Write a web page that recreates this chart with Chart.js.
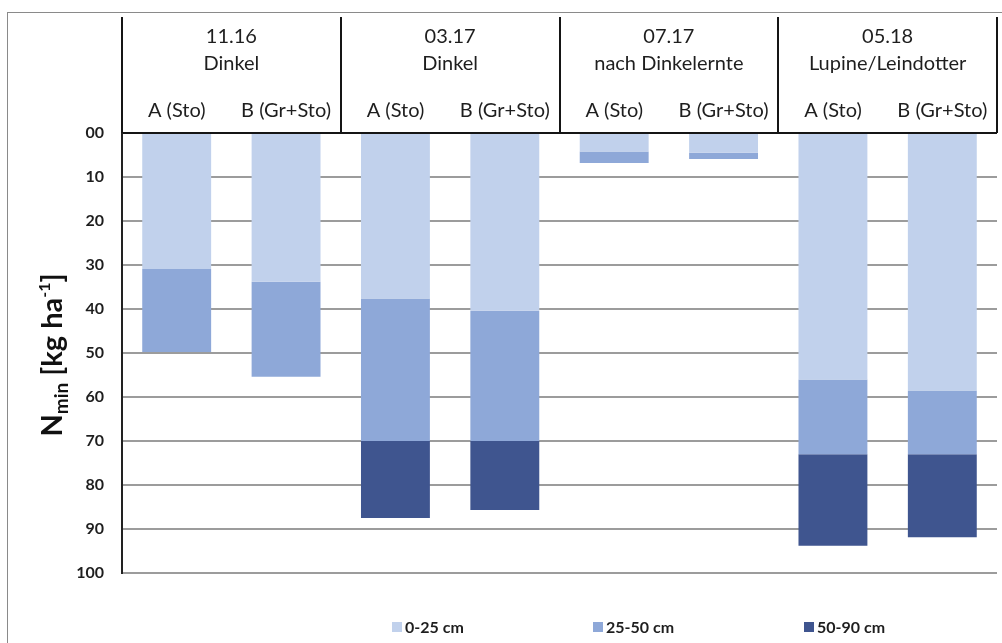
<!DOCTYPE html>
<html>
<head>
<meta charset="utf-8">
<script src="https://cdn.jsdelivr.net/npm/chart.js@4.4.1/dist/chart.umd.min.js"></script>
<style>
  html, body { margin: 0; padding: 0; background: #fff; overflow: hidden; }
  .wrap { position: relative; width: 1002px; height: 643px; }
  .frame { position: absolute; left: 7px; top: 12px; right: -5px; bottom: -5px;
           border-left: 1px solid #8a8a8a; border-top: 1px solid #8a8a8a; }
  canvas { position: absolute; left: 0; top: 0; }
</style>
</head>
<body>
<div class="wrap">
  <div class="frame"></div>
  <canvas id="nminChart" width="1002" height="643"></canvas>
</div>
<script>
// --- Data ---
const groupLabels = [
    ['11.16', 'Dinkel'],
    ['03.17', 'Dinkel'],
    ['07.17', 'nach Dinkelernte'],
    ['05.18', 'Lupine/Leindotter']
];
const variantLabels = ['A (Sto)', 'B (Gr+Sto)'];
const categories = groupLabels.flatMap(() => variantLabels);

// Nmin per soil layer, kg/ha
const layer0to25 = [30.9, 33.8, 37.6, 40.4, 4.2, 4.5, 56.0, 58.5];
const layer25to50 = [18.9, 21.6, 32.4, 29.6, 2.6, 1.4, 17.0, 14.5];
const layer50to90 = [0, 0, 17.5, 15.7, 0, 0, 20.8, 18.9];

const seriesNames = ['0-25 cm', '25-50 cm', '50-90 cm'];
const seriesColors = ['#c1d1ec', '#8ea8d8', '#3f558f'];

const yTicks = [0, 10, 20, 30, 40, 50, 60, 70, 80, 90, 100];

Chart.defaults.font.family = 'Lato, "Open Sans", sans-serif';
Chart.defaults.color = '#1e1e1e';

// header separators + y title + legend, drawn on top of the chart
const decorPlugin = {
    id: 'decor',
    afterDraw(chart) {
        const ctx = chart.ctx;
        const area = chart.chartArea;
        const groupWidth = area.width / groupLabels.length;

        // vertical lines of the header table
        ctx.save();
        ctx.strokeStyle = '#151515';
        ctx.lineWidth = 2;
        for (let k = 0; k <= groupLabels.length; k++) {
            const x = Math.round(area.left + k * groupWidth);
            ctx.beginPath();
            ctx.moveTo(x, 17);
            ctx.lineTo(x, area.top);
            ctx.stroke();
        }
        ctx.restore();

        // y axis title: N_min [kg ha^-1]
        const parts = [
            { t: 'N', size: 29, dy: 0 },
            { t: 'min', size: 19, dy: 6 },
            { t: ' [kg ha', size: 29, dy: 0 },
            { t: '-1', size: 16, dy: -12 },
            { t: ']', size: 29, dy: 0 }
        ];
        ctx.save();
        let total = 0;
        parts.forEach(p => {
            ctx.font = `bold ${p.size}px Lato, "Open Sans", sans-serif`;
            p.w = ctx.measureText(p.t).width;
            total += p.w;
        });
        ctx.translate(62, 355);
        ctx.rotate(-Math.PI / 2);
        ctx.fillStyle = '#111';
        ctx.textBaseline = 'alphabetic';
        let cx = -total / 2;
        parts.forEach(p => {
            ctx.font = `bold ${p.size}px Lato, "Open Sans", sans-serif`;
            ctx.fillText(p.t, cx, p.dy);
            cx += p.w;
        });
        ctx.restore();

        // legend
        const legendX = [392, 593, 804];
        const legendY = 627;
        ctx.save();
        ctx.font = 'bold 16px Lato, "Open Sans", sans-serif';
        ctx.textBaseline = 'middle';
        chart.data.datasets.forEach((ds, i) => {
            ctx.fillStyle = ds.backgroundColor;
            ctx.fillRect(legendX[i], legendY - 5, 10, 10);
            ctx.fillStyle = '#1e1e1e';
            ctx.fillText(ds.label, legendX[i] + 13, legendY + 1);
        });
        ctx.restore();
    }
};

const layers = [layer0to25, layer25to50, layer50to90];

new Chart(document.getElementById('nminChart'), {
    type: 'bar',
    data: {
        labels: categories,
        datasets: layers.map((values, i) => ({
            label: seriesNames[i],
            data: values,
            backgroundColor: seriesColors[i],
            borderWidth: 0,
            barPercentage: 0.63,
            categoryPercentage: 1.0,
            xAxisID: 'x',
            yAxisID: 'y'
        }))
    },
    options: {
        responsive: false,
        animation: false,
        layout: { padding: { top: 0, left: 0, right: 5, bottom: 70 } },
        plugins: {
            legend: { display: false },
            tooltip: { enabled: false }
        },
        scales: {
            x: {
                type: 'category',
                position: 'top',
                stacked: true,
                offset: true,
                grid: { display: false, drawTicks: false },
                border: { display: false },
                ticks: {
                    autoSkip: false,
                    maxRotation: 0,
                    padding: 10,
                    font: { size: 20 },
                    color: '#1e1e1e'
                },
                afterFit: (scale) => { scale.height = 40; }
            },
            xg: {
                type: 'category',
                position: 'top',
                labels: groupLabels,
                offset: true,
                grid: { display: false, drawTicks: false },
                border: { display: false },
                ticks: {
                    autoSkip: false,
                    maxRotation: 0,
                    padding: 15.7,
                    font: { size: 20, lineHeight: 1.36 },
                    color: '#1e1e1e'
                },
                afterFit: (scale) => { scale.height = 93; }
            },
            y: {
                stacked: true,
                reverse: true,
                min: 0,
                max: 100,
                afterBuildTicks: (scale) => {
                    scale.ticks = yTicks.map(v => ({ value: v }));
                },
                grid: {
                    drawTicks: false,
                    lineWidth: 2,
                    color: (c) => (c.tick && c.tick.value === 0) ? '#151515' : '#9c9c9c'
                },
                border: { display: true, color: '#222', width: 2 },
                ticks: {
                    padding: 18,
                    font: { size: 16, weight: 'bold' },
                    color: '#1e1e1e',
                    callback: (v) => v === 0 ? '00' : String(v)
                },
                afterFit: (scale) => { scale.width = 122; }
            }
        }
    },
    plugins: [decorPlugin]
});
</script>
</body>
</html>
